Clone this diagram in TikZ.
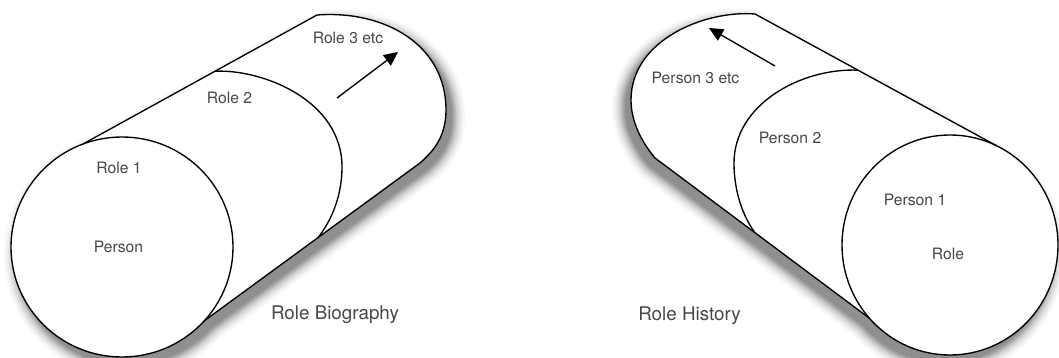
\documentclass[tikz,border=0pt]{standalone}
\usepackage{fontspec}
\setmainfont{TeX Gyre Heros}
\usetikzlibrary{calc,arrows.meta}
\begin{document}
\begin{tikzpicture}[x=1pt,y=-1pt,
  outline/.style={draw=black, line width=1.35pt, line join=round, line cap=round},
  lbl/.style={text=black!72, font=\fontsize{15.7}{18}\selectfont, inner sep=0pt},
  ttl/.style={text=black!72, font=\fontsize{18.8}{22}\selectfont, inner sep=0pt},
  arr/.style={draw=black, line width=1.35pt, -{Triangle[length=14pt,width=13pt]}},
  shadowlayer/.style={line join=round},
]
\useasboundingbox (0,0) rectangle (1059,358);

% ---------- left cylinder geometry ----------
\coordinate (LC) at (122,247);
\coordinate (LT) at ($(LC)+(-110.5:111 and 110)$);
\coordinate (LB) at ($(LC)+(42.1:111 and 110)$);
\coordinate (LTE) at (317,15);
\coordinate (LR) at (446,110);
\coordinate (LBE) at (420,163);
\coordinate (R2s) at ($(LT)!0.564!(LTE)$);
\coordinate (R2e) at ($(LB)!0.527!(LBE)$);
\coordinate (LA1) at (337,98);
\coordinate (LA2) at (398,52);

% ---------- right cylinder geometry ----------
\coordinate (RC) at (950,245);
\coordinate (RT) at ($(RC)+(-64.8:108 and 110)$);
\coordinate (RB) at ($(RC)+(138.3:108 and 110)$);
\coordinate (RTE) at (755,14);
\coordinate (RL) at (631,100);
\coordinate (RBE) at (655,158);
\coordinate (P2s) at ($(RTE)!0.427!(RT)$);
\coordinate (P2e) at ($(RBE)!0.466!(RB)$);
\coordinate (RA1) at (775,66);
\coordinate (RA2) at (709,28);

\def\leftbody{(LT) -- (LTE) .. controls (385,10) and (446,45) .. (LR) .. controls (446,135) and (435,150) .. (LBE) -- (LB) -- (LC) -- cycle}
\def\rightbody{(RT) -- (RTE) .. controls (705,10) and (631,40) .. (RL) .. controls (631,120) and (640,140) .. (RBE) -- (RB) -- (RC) -- cycle}

% ---------- shadows ----------
\begin{scope}[transform canvas={xshift=6pt,yshift=-8pt}]
  \foreach \w/\c in {26/3,21/7,17/12,13/18,9/25,6/32,3/38}{
    \draw[shadowlayer, line width=\w pt, black!\c] (LC) ellipse[x radius=111, y radius=110];
    \draw[shadowlayer, line width=\w pt, black!\c] \leftbody;
  }
  \fill[black!44] (LC) ellipse[x radius=111, y radius=110];
  \fill[black!44] \leftbody;
\end{scope}
\begin{scope}[transform canvas={xshift=-6pt,yshift=-8pt}]
  \foreach \w/\c in {26/3,21/7,17/12,13/18,9/25,6/32,3/38}{
    \draw[shadowlayer, line width=\w pt, black!\c] (RC) ellipse[x radius=108, y radius=110];
    \draw[shadowlayer, line width=\w pt, black!\c] \rightbody;
  }
  \fill[black!44] (RC) ellipse[x radius=108, y radius=110];
  \fill[black!44] \rightbody;
\end{scope}

% ---------- white bodies ----------
\fill[white] (LC) ellipse[x radius=111, y radius=110];
\fill[white] \leftbody;
\fill[white] (RC) ellipse[x radius=108, y radius=110];
\fill[white] \rightbody;

% ---------- left outlines ----------
\draw[outline] (LT) -- (LTE) .. controls (385,10) and (446,45) .. (LR) .. controls (446,135) and (435,150) .. (LBE) -- (LB);
\draw[outline] (R2s) .. controls (262,69) and (342,100) .. (342,167) .. controls (342,195) and (332,220) .. (R2e);
\draw[outline] (LC) ellipse[x radius=111, y radius=110];
\draw[arr] (LA1) -- (LA2);

% ---------- right outlines ----------
\draw[outline] (RT) -- (RTE) .. controls (705,10) and (631,40) .. (RL) .. controls (631,120) and (640,140) .. (RBE) -- (RB);
\draw[outline] (P2s) .. controls (800,68) and (734,105) .. (734,163) .. controls (734,190) and (742,215) .. (P2e);
\draw[outline] (RC) ellipse[x radius=108, y radius=110];
\draw[arr] (RA1) -- (RA2);

% ---------- labels ----------
\node[lbl] (role3) at (348,38) {Role 3 etc};
\node[lbl] (role2) at (229.5,98) {Role 2};
\node[lbl] (role1) at (119,167.5) {Role 1};
\node[lbl] (person) at (118.5,247) {Person};
\node[ttl] (rbio) at (335,315) {Role Biography};

\node[lbl] (person3) at (695.5,77.5) {Person 3 etc};
\node[lbl] (person2) at (790,138) {Person 2};
\node[lbl] (person1) at (915,200) {Person 1};
\node[lbl] (role) at (948,254) {Role};
\node[ttl] (rhist) at (689.5,315.5) {Role History};
\end{tikzpicture}
\end{document}
